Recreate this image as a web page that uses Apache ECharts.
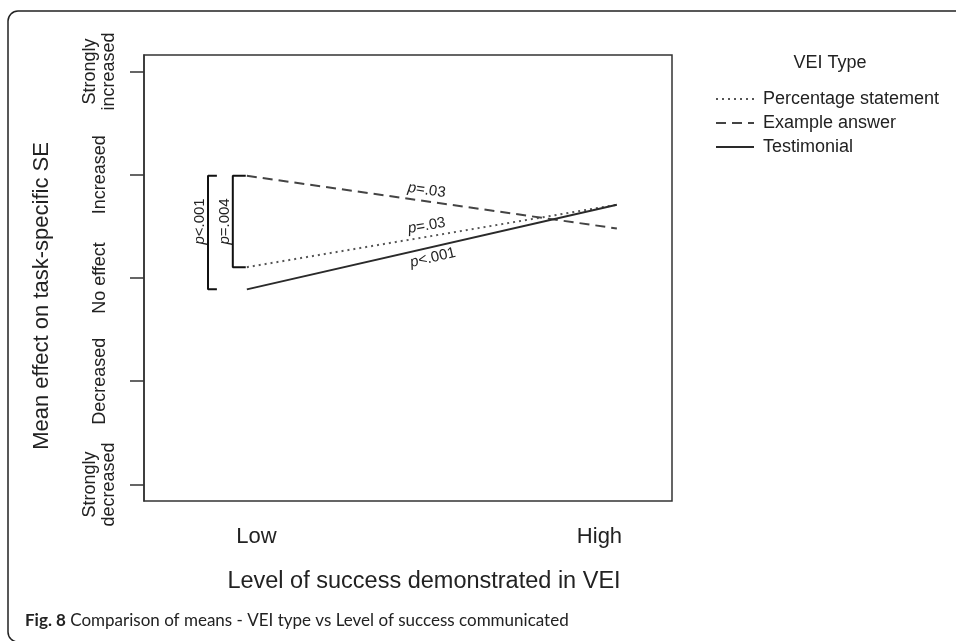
<!DOCTYPE html>
<html>
<head>
<meta charset="utf-8">
<script src="https://cdn.jsdelivr.net/npm/echarts@6/dist/echarts.min.js"></script>
<style>
  html, body { margin: 0; padding: 0; background: #fff; }
  #chart { width: 956px; height: 641px; }
</style>
</head>
<body>
<div id="chart"></div>
<script>
// x positions of the two levels (Low = 0, High = 1)
const levels = [0, 1]
const xTickLabels = ['Low', 'High']
const xTickAt = [0.026, 0.953]

// y scale: -2 strongly decreased ... 2 strongly increased
const yTickValues = [-2, -1, 0, 1, 2]
const yTickLabels = ['Strongly\ndecreased', 'Decreased', 'No effect', 'Increased', 'Strongly\nincreased']

const seriesNames = ['Percentage statement', 'Example answer', 'Testimonial']
const percentage = [0.105, 0.71]
const example = [0.99, 0.48]
const testimonial = [-0.11, 0.71]

// significance labels
const lineP = ['p=.03', 'p=.03', 'p<.001'] // percentage, example, testimonial
const bracketP = ['p<.001', 'p=.004'] // example vs testimonial, example vs percentage at Low

const FONT = "'Liberation Sans', Arial, sans-serif"

const chart = echarts.init(document.getElementById('chart'))

function pair(vals) {
  return levels.map((x, i) => [x, vals[i]])
}

function bracket(xv, xe, top, bottom) {
  return [[xe, top], [xv, top], [xv, bottom], [xe, bottom]]
}

const option = {
  animation: false,
  backgroundColor: '#fff',
  textStyle: { fontFamily: FONT },
  grid: {
    left: 144, top: 55, right: 284, bottom: 140,
    show: true, borderColor: '#333', borderWidth: 1.5
  },
  legend: {
    orient: 'vertical',
    left: 710,
    top: 85,
    itemWidth: 38,
    itemHeight: 14,
    itemGap: 6,
    data: seriesNames,
    itemStyle: { opacity: 0 },
    textStyle: { fontSize: 18, color: '#222', fontFamily: FONT, padding: [0, 0, 0, 4] },
    selectedMode: false
  },
  xAxis: {
    type: 'value',
    min: -0.278,
    max: 1.149,
    axisLine: { show: false, onZero: false },
    axisTick: { show: false },
    splitLine: { show: false },
    axisLabel: {
      customValues: xTickAt,
      margin: 25,
      fontSize: 22,
      color: '#222',
      formatter: (v) => xTickLabels[xTickAt.indexOf(v)] || ''
    }
  },
  yAxis: {
    type: 'value',
    min: -2.16,
    max: 2.16,
    axisLine: { show: true, onZero: false, lineStyle: { color: '#333', width: 1.5 } },
    splitLine: { show: false },
    axisTick: {
      show: true,
      customValues: yTickValues,
      length: 14,
      lineStyle: { color: '#333', width: 1.5 }
    },
    axisLabel: {
      customValues: yTickValues,
      rotate: 90,
      margin: 44,
      verticalAlign: 'middle',
      fontSize: 18,
      lineHeight: 19,
      color: '#222',
      formatter: (v) => yTickLabels[yTickValues.indexOf(v)] || ''
    }
  },
  series: [
    {
      name: seriesNames[0],
      type: 'line',
      data: pair(percentage),
      symbol: 'none',
      itemStyle: { color: '#555' },
      lineStyle: { color: '#555', width: 2, type: [2, 4] }
    },
    {
      name: seriesNames[1],
      type: 'line',
      data: pair(example),
      symbol: 'none',
      itemStyle: { color: '#444' },
      lineStyle: { color: '#444', width: 2, type: [10, 6] }
    },
    {
      name: seriesNames[2],
      type: 'line',
      data: pair(testimonial),
      symbol: 'none',
      itemStyle: { color: '#2a2a2a' },
      lineStyle: { color: '#2a2a2a', width: 2 }
    },
    {
      name: 'bracket-outer',
      type: 'line',
      data: bracket(-0.105, -0.081, example[0], testimonial[0]),
      symbol: 'none',
      silent: true,
      lineStyle: { color: '#111', width: 2 }
    },
    {
      name: 'bracket-inner',
      type: 'line',
      data: bracket(-0.038, -0.003, example[0], percentage[0]),
      symbol: 'none',
      silent: true,
      lineStyle: { color: '#111', width: 2 }
    }
  ]
}

chart.setOption(option)

function pText(str, x, y, rotation, size) {
  return {
    type: 'text',
    x, y, rotation,
    silent: true,
    style: {
      text: '{i|p}' + str.slice(1),
      align: 'center',
      verticalAlign: 'middle',
      font: size + 'px ' + FONT,
      fill: '#222',
      rich: { i: { fontStyle: 'italic', fontSize: size, fontFamily: FONT } }
    }
  }
}

function lineLabel(vals, text, xAt, dy) {
  const a = chart.convertToPixel({ gridIndex: 0 }, [levels[0], vals[0]])
  const b = chart.convertToPixel({ gridIndex: 0 }, [levels[1], vals[1]])
  const p = chart.convertToPixel({ gridIndex: 0 }, [xAt, vals[0] + (vals[1] - vals[0]) * xAt])
  const ang = -Math.atan2(b[1] - a[1], b[0] - a[0])
  return pText(text, p[0], p[1] + dy, ang, 15)
}

const midY = (example[0] + percentage[0]) / 2
const outer = chart.convertToPixel({ gridIndex: 0 }, [-0.105, midY])
const inner = chart.convertToPixel({ gridIndex: 0 }, [-0.038, midY])

chart.setOption({
  graphic: [
    {
      type: 'rect',
      silent: true,
      shape: { x: 8, y: 11, width: 1000, height: 631, r: 10 },
      style: { fill: 'none', stroke: '#222', lineWidth: 1.5 }
    },
    {
      type: 'text',
      x: 42, y: 296, rotation: Math.PI / 2,
      style: {
        text: 'Mean effect on task-specific SE',
        align: 'center', verticalAlign: 'middle',
        font: '22px ' + FONT, fill: '#222'
      }
    },
    {
      type: 'text',
      x: 424, y: 582,
      style: {
        text: 'Level of success demonstrated in VEI',
        align: 'center', verticalAlign: 'middle',
        font: '23.5px ' + FONT, fill: '#222'
      }
    },
    {
      type: 'text',
      x: 830, y: 63,
      style: {
        text: 'VEI Type',
        align: 'center', verticalAlign: 'middle',
        font: '18px ' + FONT, fill: '#222'
      }
    },
    {
      type: 'text',
      x: 25, y: 621,
      style: {
        text: '{b|Fig. 8} Comparison of means - VEI type vs Level of success communicated',
        verticalAlign: 'middle',
        font: "17px Lato, 'Open Sans', sans-serif",
        fill: '#222',
        rich: { b: { fontWeight: 'bold', fontSize: 17, fontFamily: "Lato, 'Open Sans', sans-serif" } }
      }
    },
    lineLabel(example, lineP[1], 0.486, -11),
    lineLabel(percentage, lineP[0], 0.486, -11),
    lineLabel(testimonial, lineP[2], 0.503, 11),
    pText(bracketP[0], outer[0] - 8, outer[1], Math.PI / 2, 15),
    pText(bracketP[1], inner[0] - 8, inner[1], Math.PI / 2, 15)
  ]
})
</script>
</body>
</html>
